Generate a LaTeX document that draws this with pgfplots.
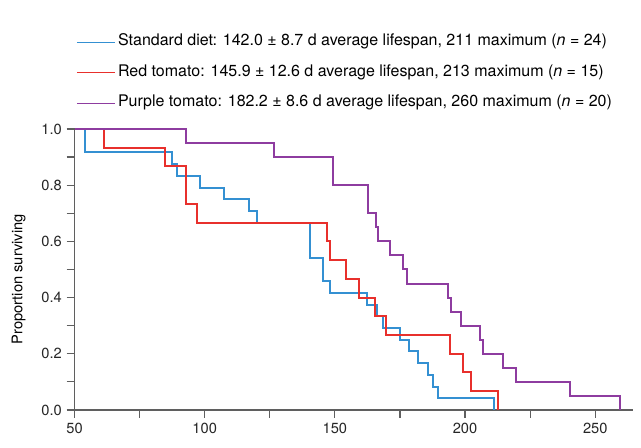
\documentclass[border=0pt]{standalone}
\usepackage{pgfplots}
\pgfplotsset{compat=1.18}
\usepackage{fontspec}
\setmainfont{TeX Gyre Heros}
\definecolor{cblue}{RGB}{52,144,210}
\definecolor{cred}{RGB}{232,48,44}
\definecolor{cpurple}{RGB}{142,60,160}
\definecolor{axgray}{RGB}{95,95,95}
\begin{document}
\begin{tikzpicture}
\begin{axis}[
  at={(0,0)}, anchor=south west,
  scale only axis, width=418.9pt, height=210.75pt,
  xmin=50, xmax=264.5, ymin=0, ymax=1,
  axis lines*=left,
  axis line style={axgray, line width=1.1pt, -},
  clip=false,
  xtick={50,75,100,125,150,175,200,225,250},
  xticklabels={50,,100,,150,,200,,250},
  ytick={0,0.1,0.2,0.3,0.4,0.5,0.6,0.7,0.8,0.9,1.0},
  yticklabels={0.0,,0.2,,0.4,,0.6,,0.8,,1.0},
  tick style={axgray, line width=0.9pt},
  major tick length=6pt,
  tick align=outside,
  ticklabel style={font=\fontsize{11}{13}\selectfont, text=black!85},
  ylabel={Proportion surviving},
  ylabel style={at={(axis description cs:-0.1,0.465)}, anchor=center, font=\fontsize{11}{13}\selectfont},
  legend style={at={(axis description cs:0.003,1.345)}, anchor=north west, draw=none, fill=none,
    inner sep=0pt, row sep=8.4pt, font=\fontsize{12}{13}\selectfont,
    nodes={text height=8pt, text depth=2.5pt}},
  legend cell align=left,
  legend image code/.code={\draw[#1, line width=0.7pt] (0pt,0pt) -- (28.5pt,0pt);},
  every axis plot/.append style={line width=1.5pt, const plot mark left, mark=none},
]
\addplot[cblue] coordinates {
(50,1) (54,0.9167) (87.3,0.875) (89.5,0.8333) (98.2,0.7917) (107.5,0.75) (117.1,0.7083) (120.1,0.6667) (140.6,0.5417) (145.5,0.4583) (148.3,0.4167) (162.5,0.375) (166,0.3333) (168.5,0.2917) (174.9,0.25) (178.4,0.2083) (181.9,0.1667) (185.8,0.125) (187.7,0.0833) (189.6,0.0417) (211,0)
};
\addlegendentry{Standard diet: 142.0 ± 8.7 d average lifespan, 211 maximum (\textit{n} = 24)}
\addplot[cred] coordinates {
(50,1) (61.3,0.9333) (84.7,0.8667) (92.7,0.7333) (96.9,0.6667) (147,0.6) (148.3,0.5333) (154.4,0.4667) (159.3,0.4) (165.3,0.3333) (169.5,0.2667) (194.1,0.2) (199.2,0.1333) (202.2,0.0667) (212.5,0)
};
\addlegendentry{Red tomato: 145.9 ± 12.6 d average lifespan, 213 maximum (\textit{n} = 15)}
\addplot[cpurple] coordinates {
(50,1) (93,0.95) (126.7,0.9) (149.3,0.8) (162.7,0.7) (165.7,0.65) (166.6,0.6) (171.3,0.55) (176.2,0.5) (177.7,0.45) (193.4,0.4) (194.7,0.35) (198.6,0.3) (205.6,0.25) (206.9,0.2) (214.6,0.15) (219.7,0.1) (240.4,0.05) (259.6,0)
};
\addlegendentry{Purple tomato: 182.2 ± 8.6 d average lifespan, 260 maximum (\textit{n} = 20)}
\end{axis}
\pgfresetboundingbox
\path[use as bounding box] (-55.9pt,-28.5pt) rectangle (424.9pt,307.5pt);
\end{tikzpicture}
\end{document}
